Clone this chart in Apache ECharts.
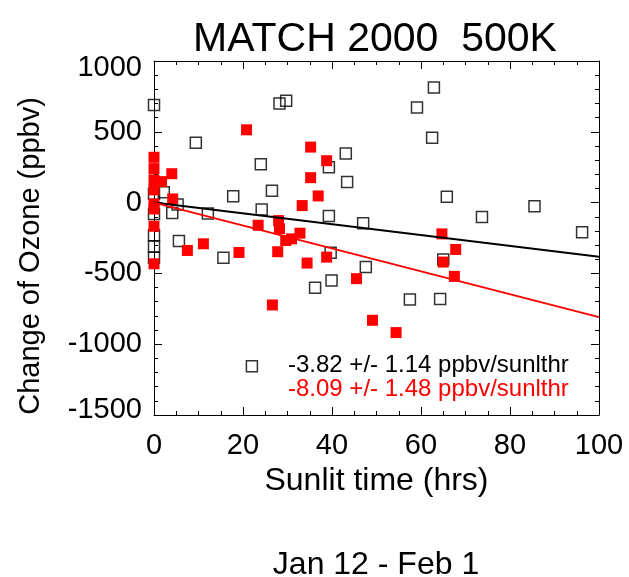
<!DOCTYPE html>
<html><head><meta charset="utf-8">
<script src="https://cdn.jsdelivr.net/npm/echarts@6/dist/echarts.min.js"></script>
<style>html,body{margin:0;padding:0;background:#fff}#c{width:629px;height:577px}</style>
</head><body><div id="c"></div>
<script>
// Open (black) squares: all matches
const blackX = [0, 0, 0, 0, 0, 0, 2.2, 4.1, 5.3, 5.6, 9.4, 12.1, 15.6, 17.8, 22.0, 24.0, 24.2, 26.5, 28.2, 29.7,
  36.2, 39.3, 39.3, 39.7, 39.9, 43.1, 43.4, 47.0, 47.6, 57.5, 59.1, 62.5, 62.9, 64.3, 65.0, 65.8, 73.7, 85.5, 96.2];
const blackY = [690, 63, -80, -230, -310, -390, 73, -73, -14, -272, 423, -77, -389, 44, -1155, 270, -49, 84, 699, 720,
  -601, 249, -94, -354, -551, 347, 146, -146, -455, -685, 671, 458, 812, -681, -401, 42, -101, -26, -209];
// Filled (red) squares
const redX = [0, 0, 0, 0, 0, 0, 0, 0, 1.7, 4.0, 4.2, 7.5, 11.1, 19.1, 20.8, 23.4, 26.6, 27.8, 28.0, 28.2,
  29.6, 30.9, 32.8, 33.3, 34.4, 35.2, 35.2, 36.9, 38.8, 38.8, 45.5, 49.1, 54.4, 64.7, 65.0, 67.5, 67.8];
const redY = [320, 240, 160, 90, -10, -45, -167, -432, 148, 204, 26, -338, -291, -352, 514, -160, -723, -347, -127, -185,
  -268, -256, -216, -21, -427, 392, 176, 47, 296, -385, -537, -831, -918, -221, -420, -521, -331];
// Fit lines (endpoints)
const fitX = [0, 100];
const blackFitY = [0, -382];
const redFitY = [0, -809];
// Axis ticks
const xTickValues = [0, 20, 40, 60, 80, 100];
const yTickValues = [-1500, -1000, -500, 0, 500, 1000];
const titleText = 'MATCH 2000  500K';
const yName = 'Change of Ozone (ppbv)';
const blackNote = '-3.82 +/- 1.14 ppbv/sunlthr';
const redNote = '-8.09 +/- 1.48 ppbv/sunlthr';
const footer = 'Jan 12 - Feb 1';

const FONT = '"Liberation Sans", Arial, Helvetica, sans-serif';
const zip = (a, b) => a.map((v, i) => [v, b[i]]);

const chart = echarts.init(document.getElementById('c'), null, {renderer: 'canvas'});
const axisCommon = {
  axisLine: {show: true, onZero: false, lineStyle: {color: '#000', width: 1}},
  axisTick: {show: true, inside: true, length: 8, lineStyle: {color: '#000', width: 1}},
  splitLine: {show: false}
};
chart.setOption({
  animation: false,
  backgroundColor: '#fff',
  grid: {left: 154, right: 30, top: 61, bottom: 162, containLabel: false},
  xAxis: [
    Object.assign({}, axisCommon, {
      type: 'value', position: 'bottom', min: xTickValues[0], max: xTickValues[xTickValues.length - 1], interval: 20,
      minorTick: {show: true, splitNumber: 4, length: 4, lineStyle: {color: '#000', width: 1}},
      axisLabel: {show: true, fontSize: 29, color: '#000', fontFamily: FONT, margin: 16},
      name: 'Sunlit time (hrs)', nameLocation: 'middle', nameGap: 50,
      nameTextStyle: {fontSize: 32, color: '#000', fontFamily: FONT}
    }),
    Object.assign({}, axisCommon, {
      type: 'value', position: 'top', min: 0, max: 100, interval: 20,
      minorTick: {show: true, splitNumber: 4, length: 4, lineStyle: {color: '#000', width: 1}},
      axisLabel: {show: false}
    })
  ],
  yAxis: [
    Object.assign({}, axisCommon, {
      type: 'value', position: 'left', min: yTickValues[0], max: yTickValues[yTickValues.length - 1], interval: 500,
      minorTick: {show: true, splitNumber: 5, length: 4, lineStyle: {color: '#000', width: 1}},
      axisLabel: {
        show: true, fontSize: 29, color: '#000', fontFamily: FONT, margin: 12,
        formatter: function (v) {
          if (v === 1000) return '{t|' + v + '}';
          if (v === -1500) return '{b|' + v + '}';
          return String(v);
        },
        rich: {
          t: {fontSize: 29, color: '#000', fontFamily: FONT, padding: [14, 0, 0, 0]},
          b: {fontSize: 29, color: '#000', fontFamily: FONT, padding: [0, 0, 10, 0]}
        }
      }
    }),
    Object.assign({}, axisCommon, {
      type: 'value', position: 'right', min: -1500, max: 1000, interval: 500,
      minorTick: {show: true, splitNumber: 5, length: 4, lineStyle: {color: '#000', width: 1}},
      axisLabel: {show: false}
    })
  ],
  series: [
    {
      type: 'scatter', xAxisIndex: 0, yAxisIndex: 0, z: 2,
      symbol: 'rect', symbolSize: 11,
      itemStyle: {color: 'rgba(255,255,255,0)', borderColor: '#000', borderWidth: 1.5},
      data: zip(blackX, blackY)
    },
    {
      type: 'scatter', xAxisIndex: 0, yAxisIndex: 0, z: 3,
      symbol: 'rect', symbolSize: 11,
      itemStyle: {color: '#ff0000', borderWidth: 0, opacity: 1},
      data: zip(redX, redY)
    },
    {
      type: 'line', xAxisIndex: 0, yAxisIndex: 0, z: 4, symbol: 'none',
      lineStyle: {color: '#000', width: 2},
      data: zip(fitX, blackFitY)
    },
    {
      type: 'line', xAxisIndex: 0, yAxisIndex: 0, z: 4, symbol: 'none',
      lineStyle: {color: '#ff0000', width: 2},
      data: zip(fitX, redFitY)
    }
  ],
  graphic: [
    {type: 'text', x: 375, y: 40, style: {text: titleText, fontSize: 41, fill: '#000', fontFamily: FONT, align: 'center', verticalAlign: 'middle'}},
    {type: 'text', x: 31, y: 256, rotation: Math.PI / 2, style: {text: yName, fontSize: 29, fill: '#000', fontFamily: FONT, align: 'center', verticalAlign: 'middle'}},
    {type: 'text', x: 288, y: 365, style: {text: blackNote, fontSize: 24, fill: '#000', fontFamily: FONT, align: 'left', verticalAlign: 'middle'}},
    {type: 'text', x: 288, y: 389, style: {text: redNote, fontSize: 24, fill: '#ff0000', fontFamily: FONT, align: 'left', verticalAlign: 'middle'}},
    {type: 'text', x: 376, y: 565, style: {text: footer, fontSize: 32, fill: '#000', fontFamily: FONT, align: 'center', verticalAlign: 'middle'}}
  ]
});
</script>
</body></html>
